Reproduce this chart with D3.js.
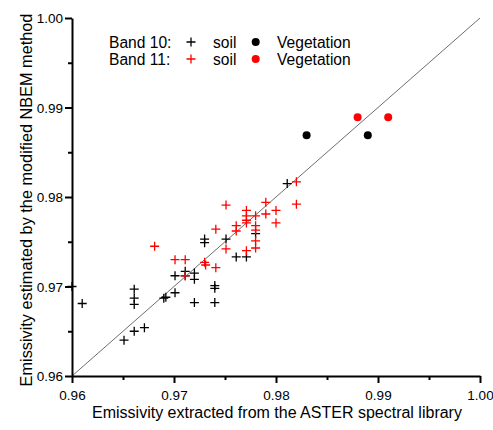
<!DOCTYPE html>
<html>
<head>
<meta charset="utf-8">
<script src="https://cdn.jsdelivr.net/npm/d3@7"></script>
<style>
  body { margin: 0; background: #fff; }
  svg { display: block; font-family: "Liberation Sans", Arial, sans-serif; }
</style>
</head>
<body>
<svg id="chart" width="493" height="430"></svg>
<script>
// Band 10 soil samples: [library emissivity, estimated emissivity]
const band10Soil = [
  [0.9600, 0.9700], [0.9610, 0.9681], [0.9651, 0.9640], [0.9661, 0.9650],
  [0.9671, 0.9654], [0.9661, 0.9697], [0.9661, 0.9687], [0.9661, 0.9680],
  [0.9690, 0.9687], [0.9692, 0.9688], [0.9701, 0.9693], [0.9701, 0.9712],
  [0.9711, 0.9717], [0.9711, 0.9712], [0.9720, 0.9715], [0.9720, 0.9708],
  [0.9720, 0.9682], [0.9730, 0.9753], [0.9730, 0.9749], [0.9740, 0.9701],
  [0.9740, 0.9698], [0.9740, 0.9682], [0.9751, 0.9753], [0.9761, 0.9733],
  [0.9771, 0.9733], [0.9780, 0.9759], [0.9811, 0.9815]
];
// Band 11 soil samples
const band11Soil = [
  [0.9681, 0.9745], [0.9701, 0.9730], [0.9711, 0.9730], [0.9711, 0.9712],
  [0.9730, 0.9727], [0.9731, 0.9724], [0.9741, 0.9721], [0.9741, 0.9764],
  [0.9751, 0.9791], [0.9751, 0.9742], [0.9761, 0.9768], [0.9761, 0.9762],
  [0.9771, 0.9785], [0.9771, 0.9779], [0.9771, 0.9774], [0.9771, 0.9771],
  [0.9771, 0.9740], [0.9780, 0.9779], [0.9780, 0.9768], [0.9780, 0.9763],
  [0.9780, 0.9751], [0.9780, 0.9743], [0.9790, 0.9794], [0.9790, 0.9781],
  [0.9800, 0.9785], [0.9800, 0.9771], [0.9820, 0.9817], [0.9820, 0.9792]
];
// Vegetation samples
const band10Veg = [[0.9830, 0.9869], [0.9890, 0.9869]];
const band11Veg = [[0.9880, 0.9889], [0.9910, 0.9889]];

const majorTicks = [0.96, 0.97, 0.98, 0.99, 1.00];
const minorTicks = [0.965, 0.975, 0.985, 0.995];
const domain = [0.96, 1.00];

const svg = d3.select("#chart");
const margin = { left: 72, right: 13, top: 18, bottom: 54 };
const W = 493, H = 430;

const x = d3.scaleLinear().domain(domain).range([margin.left, W - margin.right]);
const y = d3.scaleLinear().domain(domain).range([H - margin.bottom, margin.top]);

// 1:1 reference line
svg.append("line")
  .attr("x1", x(domain[0])).attr("y1", y(domain[0]))
  .attr("x2", x(domain[1])).attr("y2", y(domain[1]))
  .attr("stroke", "#6e6e6e").attr("stroke-width", 1);

const plus = "M-4.5,0H4.5M0,-4.5V4.5";

function drawPlus(data, color) {
  svg.append("g").selectAll("path").data(data).join("path")
    .attr("d", plus)
    .attr("transform", d => `translate(${x(d[0])},${y(d[1])})`)
    .attr("fill", "none").attr("stroke", color).attr("stroke-width", 1.3);
}
function drawDots(data, color) {
  svg.append("g").selectAll("circle").data(data).join("circle")
    .attr("cx", d => x(d[0])).attr("cy", d => y(d[1])).attr("r", 4)
    .attr("fill", color);
}
drawPlus(band10Soil, "#000");
drawPlus(band11Soil, "#ff0000");
drawDots(band10Veg, "#000");
drawDots(band11Veg, "#ff0000");

// Axes
const fmt = d3.format(".2f");
const xAxis = svg.append("g").attr("transform", `translate(0,${y(domain[0])})`)
  .call(d3.axisBottom(x).tickValues(majorTicks).tickFormat(fmt).tickSize(7).tickSizeOuter(0));
svg.append("g").attr("transform", `translate(0,${y(domain[0])})`)
  .call(d3.axisBottom(x).tickValues(minorTicks).tickFormat("").tickSize(4).tickSizeOuter(0))
  .select(".domain").remove();
const yAxis = svg.append("g").attr("transform", `translate(${x(domain[0])},0)`)
  .call(d3.axisLeft(y).tickValues(majorTicks).tickFormat(fmt).tickSize(7).tickSizeOuter(0));
svg.append("g").attr("transform", `translate(${x(domain[0])},0)`)
  .call(d3.axisLeft(y).tickValues(minorTicks).tickFormat("").tickSize(4).tickSizeOuter(0))
  .select(".domain").remove();

svg.selectAll(".domain").attr("stroke", "#000").attr("stroke-width", 2);
svg.selectAll(".tick line").attr("stroke", "#000").attr("stroke-width", 2);
svg.selectAll(".tick text").attr("font-size", 13.5).attr("fill", "#000")
  .attr("font-family", "'Liberation Sans', Arial, sans-serif");
xAxis.selectAll(".tick text").attr("dy", "0").attr("y", 24);
yAxis.selectAll(".tick text").attr("x", -9).attr("dy", "0.36em");

// Axis titles
svg.append("text")
  .attr("x", (x(domain[0]) + x(domain[1])) / 2 + 1).attr("y", 418)
  .attr("text-anchor", "middle").attr("font-size", 16)
  .text("Emissivity extracted from the ASTER spectral library");
svg.append("text")
  .attr("transform", `translate(32,${(y(domain[0]) + y(domain[1])) / 2 + 3}) rotate(-90)`)
  .attr("text-anchor", "middle").attr("font-size", 16.3)
  .text("Emissivity estimated by the modified NBEM method");

// Legend
const legendRows = [
  { label: "Band 10:", color: "#000", cy: 42 },
  { label: "Band 11:", color: "#ff0000", cy: 59 }
];
const lg = svg.append("g");
legendRows.forEach(r => {
  lg.append("text").attr("x", 109).attr("y", r.cy + 5.5).attr("font-size", 15.6).text(r.label);
  lg.append("path").attr("d", plus).attr("transform", `translate(191,${r.cy})`)
    .attr("fill", "none").attr("stroke", r.color).attr("stroke-width", 1.3);
  lg.append("text").attr("x", 213).attr("y", r.cy + 5.5).attr("font-size", 15.6).text("soil");
  lg.append("circle").attr("cx", 255.7).attr("cy", r.cy).attr("r", 4).attr("fill", r.color);
  lg.append("text").attr("x", 277).attr("y", r.cy + 5.5).attr("font-size", 15.6).text("Vegetation");
});
</script>
</body>
</html>
